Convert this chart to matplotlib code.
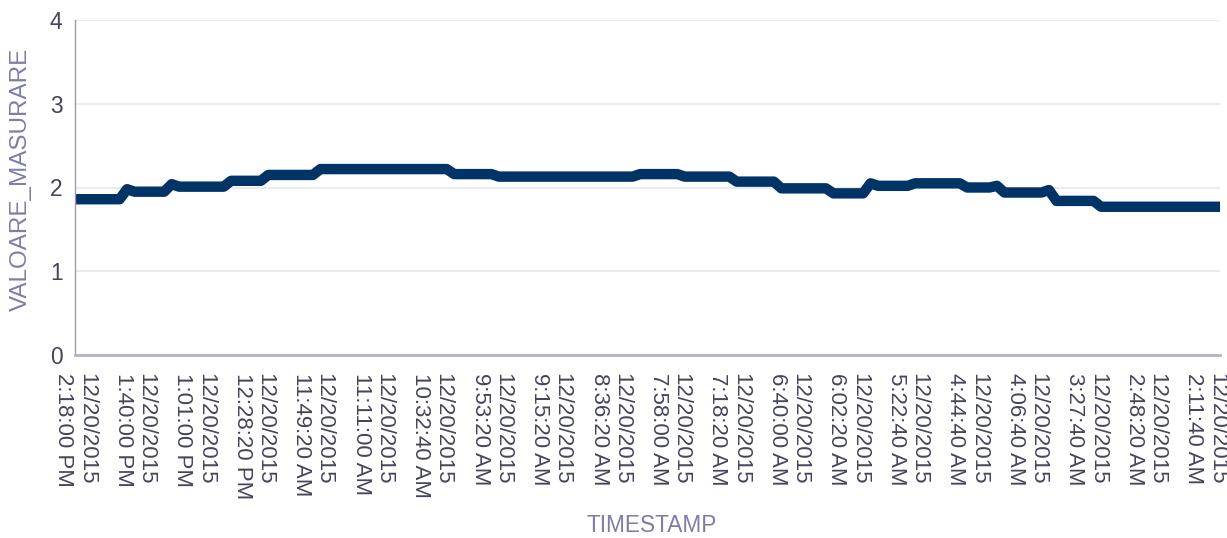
import numpy as np
import matplotlib
matplotlib.use('Agg')
import matplotlib.pyplot as plt

plt.rcParams['font.family'] = ['Liberation Sans', 'DejaVu Sans']

# valori (nivel + numar de puncte la acel nivel)
levels = [1.86, 1.98, 1.95, 2.04, 2.01, 2.08, 2.15, 2.22, 2.16, 2.13, 2.16, 2.13,
          2.07, 1.99, 1.93, 2.05, 2.02, 2.05, 2.00, 2.02, 1.94, 1.97, 1.84, 1.77]
runs = [7, 1, 5, 1, 7, 5, 7, 18, 6, 19, 6, 7,
        6, 7, 5, 1, 5, 7, 4, 1, 6, 1, 6, 17]
date = '12/20/2015'
times = ['2:18:00 PM', '1:40:00 PM', '1:01:00 PM', '12:28:20 PM', '11:49:20 AM',
         '11:11:00 AM', '10:32:40 AM', '9:53:20 AM', '9:15:20 AM', '8:36:20 AM',
         '7:58:00 AM', '7:18:20 AM', '6:40:00 AM', '6:02:20 AM', '5:22:40 AM',
         '4:44:40 AM', '4:06:40 AM', '3:27:40 AM', '2:48:20 AM', '2:11:40 AM']
step = 8  # puncte intre doua etichete

values = np.repeat(levels, runs)
x = np.arange(len(values))

fig = plt.figure(figsize=(12.27, 5.38), dpi=100)
ax = fig.add_axes([75/1227, 1-355/538, (1220-75)/1227, (355-20)/538])

ax.plot(x, values, color='#003366', lw=7.5, solid_joinstyle='round', solid_capstyle='butt')

ax.set_xlim(0, len(values)-1)
ax.set_ylim(0, 4)
ax.set_yticks([0, 1, 2, 3, 4])
ax.set_xticks(x[::step][:len(times)])
ax.set_xticklabels([date + '\n' + t for t in times], rotation=270,
                   ha='center', va='top', ma='left')
ax.tick_params(axis='x', length=0, pad=13, labelsize=16, labelcolor='#45455a')
ax.tick_params(axis='y', length=0, pad=9, labelsize=16.4, labelcolor='#45455a')
for lbl in ax.get_xticklabels():
    lbl.set_linespacing(1.1)

ax.grid(axis='y', color='#e8e8f0', lw=1.3)
ax.set_axisbelow(True)
for s in ['top', 'right']:
    ax.spines[s].set_visible(False)
ax.spines['left'].set_color('#9a9ab4')
ax.spines['left'].set_linewidth(1)
ax.spines['bottom'].set_color('#b4b4c8')
ax.spines['bottom'].set_linewidth(2)

fig.text(21/1227, 1-179/538, 'VALOARE_MASURARE', rotation=90, ha='center', va='center',
         fontsize=17.5, color='#7d7da8')
fig.text(652/1227, 1-526/538, 'TIMESTAMP', ha='center', va='center',
         fontsize=16.3, color='#7d7da8')

fig.savefig('out.png', dpi=100)
